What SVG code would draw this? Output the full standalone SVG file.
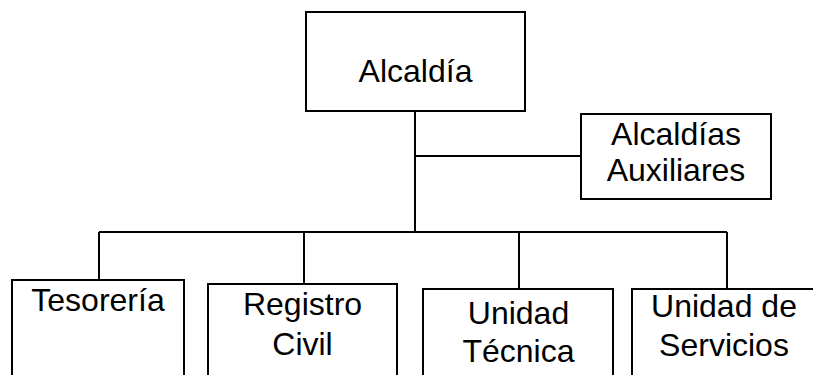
<svg xmlns="http://www.w3.org/2000/svg" width="813" height="375" viewBox="0 0 813 375">
<style>
.box{fill:#fff;stroke:#000;stroke-width:2}
.lbl{font-family:"Liberation Sans",Arial,sans-serif;font-size:32px;fill:#000;text-anchor:middle}
.con{fill:none;stroke:#000;stroke-width:2}
</style>
<rect width="813" height="375" fill="#fff"/>
<g id="connectors">
<path class="con" d="M415,111 V232"/>
<path class="con" d="M415,156 H581"/>
<path class="con" d="M99,232 H727"/>
<path class="con" d="M99,232 V280"/>
<path class="con" d="M304,232 V284"/>
<path class="con" d="M519,232 V289"/>
<path class="con" d="M727,232 V289"/>
</g>
<g id="alcaldia">
<rect class="box" x="306" y="12" width="219" height="99"/>
<text class="lbl" x="415.5" y="82">Alcaldía</text>
</g>
<g id="auxiliares">
<rect class="box" x="581" y="114" width="190" height="85"/>
<text class="lbl" x="676" y="144.5">Alcaldías</text>
<text class="lbl" x="676" y="181">Auxiliares</text>
</g>
<g id="tesoreria">
<rect class="box" x="12" y="280" width="172" height="110"/>
<text class="lbl" x="98" y="311">Tesorería</text>
</g>
<g id="registro">
<rect class="box" x="208" y="284" width="189" height="110"/>
<text class="lbl" x="302.5" y="315">Registro</text>
<text class="lbl" x="302.5" y="355">Civil</text>
</g>
<g id="tecnica">
<rect class="box" x="423" y="289" width="190" height="110"/>
<text class="lbl" x="518.5" y="324">Unidad</text>
<text class="lbl" x="518.5" y="361.5">Técnica</text>
</g>
<g id="servicios">
<rect class="box" x="632" y="289" width="184" height="110"/>
<text class="lbl" x="724" y="317">Unidad de</text>
<text class="lbl" x="724" y="356">Servicios</text>
</g>
</svg>
